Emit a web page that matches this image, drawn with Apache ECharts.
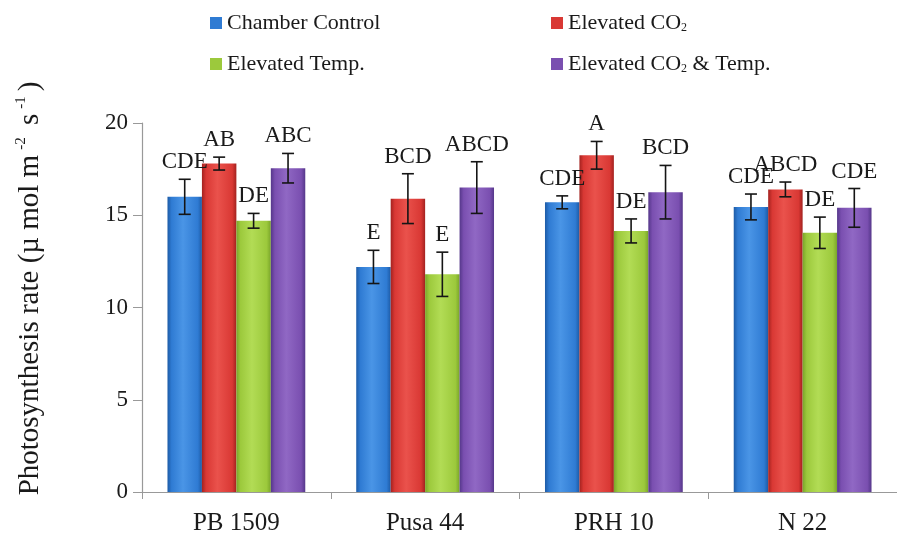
<!DOCTYPE html>
<html><head><meta charset="utf-8">
<script src="https://cdn.jsdelivr.net/npm/echarts@6/dist/echarts.min.js"></script>
<style>html,body{margin:0;padding:0;background:#fff}#c{width:897px;height:542px}</style>
</head><body><div id="c"></div>
<script>
const categories = ['PB 1509', 'Pusa 44', 'PRH 10', 'N 22'];
const seriesNames = ['Chamber Control', 'Elevated CO2', 'Elevated Temp.', 'Elevated CO2 & Temp.'];
const chamberControl = [16.0, 12.2, 15.7, 15.45];
const elevatedCO2 = [17.8, 15.9, 18.25, 16.4];
const elevatedTemp = [14.7, 11.8, 14.15, 14.05];
const elevatedCO2Temp = [17.55, 16.5, 16.25, 15.4];
const errChamber = [0.95, 0.9, 0.35, 0.7];
const errCO2 = [0.35, 1.35, 0.75, 0.4];
const errTemp = [0.4, 1.2, 0.65, 0.85];
const errCO2Temp = [0.8, 1.4, 1.45, 1.05];
const lettersChamber = ['CDE', 'E', 'CDE', 'CDE'];
const lettersCO2 = ['AB', 'BCD', 'A', 'ABCD'];
const lettersTemp = ['DE', 'E', 'DE', 'DE'];
const lettersCO2Temp = ['ABC', 'ABCD', 'BCD', 'CDE'];
const yTicks = [0, 5, 10, 15, 20];

const values = [chamberControl, elevatedCO2, elevatedTemp, elevatedCO2Temp];
const errors = [errChamber, errCO2, errTemp, errCO2Temp];
const letters = [lettersChamber, lettersCO2, lettersTemp, lettersCO2Temp];

const FONT = '"Liberation Serif","Times New Roman",serif';
const GAP = 0.27;
const palette = [
  {dark: '#1d5ba6', base: '#2f7bd3', light: '#4a95e6'},
  {dark: '#a3221f', base: '#d93834', light: '#ea524c'},
  {dark: '#7aa52a', base: '#9cc93c', light: '#b2dc55'},
  {dark: '#55378a', base: '#7a4fb0', light: '#9068c4'}
];
function grad(p) {
  return new echarts.graphic.LinearGradient(0, 0, 1, 0, [
    {offset: 0, color: p.dark}, {offset: 0.12, color: p.base},
    {offset: 0.45, color: p.light}, {offset: 0.88, color: p.base},
    {offset: 1, color: p.dark}
  ]);
}
function legendFmt(name) {
  if (name.indexOf('CO2') >= 0) {
    const parts = name.split('CO2');
    return '{t|' + parts[0] + 'CO}{s|2}' + (parts[1] ? '{t|' + parts[1] + '}' : '');
  }
  return '{t|' + name + '}';
}
const legendRich = {
  t: {fontFamily: FONT, fontSize: 22, color: '#1a1a1a'},
  s: {fontFamily: FONT, fontSize: 12, color: '#1a1a1a', verticalAlign: 'bottom', padding: [10, 0, 0, 0]}
};
const legendPos = [[205, 7], [546, 7], [205, 48], [546, 48]];
const legends = seriesNames.map((n, i) => ({
  data: [{name: n, itemStyle: {color: palette[i].base}}],
  left: legendPos[i][0], top: legendPos[i][1],
  icon: 'rect', itemWidth: 12, itemHeight: 12, itemGap: 4,
  formatter: legendFmt, textStyle: {rich: legendRich, padding: [0, 0, 0, 0]},
  selectedMode: false
}));

function errRender(si) {
  return function (params, api) {
    const ci = api.value(0), v = api.value(1), e = api.value(2);
    const catW = api.size([1, 0])[0];
    const barW = catW * (1 - GAP) / 4;
    const cx = api.coord([ci, 0])[0] + (si - 1.5) * barW;
    const yTop = api.coord([ci, v + e])[1];
    const yBot = api.coord([ci, v - e])[1];
    const cap = 6;
    const ls = {stroke: '#151515', lineWidth: 1.6};
    return {type: 'group', children: [
      {type: 'line', shape: {x1: cx, y1: yTop, x2: cx, y2: yBot}, style: ls},
      {type: 'line', shape: {x1: cx - cap, y1: yTop, x2: cx + cap, y2: yTop}, style: ls},
      {type: 'line', shape: {x1: cx - cap, y1: yBot, x2: cx + cap, y2: yBot}, style: ls},
      {type: 'text', style: {text: letters[si][ci], x: cx, y: yTop - 17, align: 'center', verticalAlign: 'middle',
        font: '23px ' + FONT, fill: '#1a1a1a'}}
    ]};
  };
}

const series = [];
seriesNames.forEach((n, i) => {
  series.push({
    name: n, type: 'bar', data: values[i], barGap: '0%', barCategoryGap: (GAP * 100) + '%',
    itemStyle: {color: grad(palette[i])}
  });
});
seriesNames.forEach((n, i) => {
  series.push({
    name: n + ' err', type: 'custom', z: 10,
    data: categories.map((c, ci) => [ci, values[i][ci], errors[i][ci]]),
    renderItem: errRender(i)
  });
});

const chart = echarts.init(document.getElementById('c'), null, {renderer: 'canvas'});
chart.setOption({
  animation: false,
  backgroundColor: '#fff',
  legend: legends,
  grid: {left: 142, right: 0, top: 123, bottom: 50, containLabel: false},
  xAxis: {
    type: 'category', data: categories,
    axisLine: {lineStyle: {color: '#999', width: 1.2}},
    axisTick: {show: true, length: 7, lineStyle: {color: '#999'}},
    axisLabel: {fontFamily: FONT, fontSize: 25, color: '#1a1a1a', margin: 19}
  },
  yAxis: {
    type: 'value', min: yTicks[0], max: yTicks[yTicks.length - 1], interval: yTicks[1] - yTicks[0],
    axisLine: {show: true, lineStyle: {color: '#999', width: 1.2}},
    axisTick: {show: true, length: 9, lineStyle: {color: '#999'}},
    splitLine: {show: false},
    axisLabel: {fontFamily: FONT, fontSize: 23, color: '#1a1a1a', margin: 14},
    name: '{n|Photosynthesis rate (µ mol m}{p|-2}{n| s}{p|-1}{n|)}',
    nameLocation: 'middle', nameRotate: 90, nameGap: 96,
    nameTextStyle: {padding: [0, 0, 0, 38], rich: {
      n: {fontFamily: FONT, fontSize: 29, color: '#1a1a1a', lineHeight: 32},
      p: {fontFamily: FONT, fontSize: 15, color: '#1a1a1a', lineHeight: 32, verticalAlign: 'top', padding: [0, 5, 0, 5]}
    }}
  },
  series: series
});
</script></body></html>
